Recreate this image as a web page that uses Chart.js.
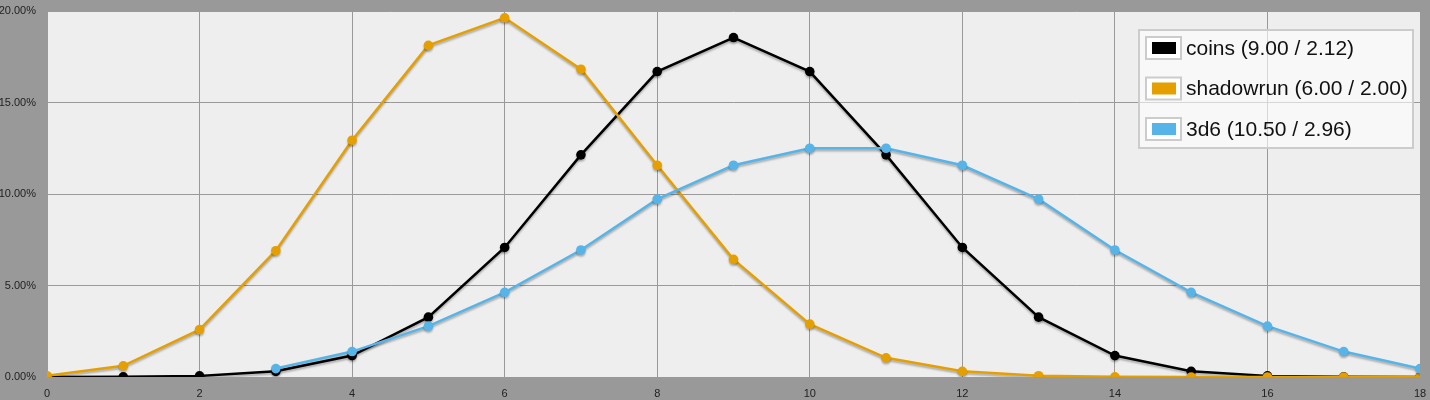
<!DOCTYPE html>
<html>
<head>
<meta charset="utf-8">
<script src="https://cdn.jsdelivr.net/npm/chart.js@4/dist/chart.umd.min.js"></script>
<style>
  html, body { margin: 0; padding: 0; background: #999999; }
  #wrap { width: 1430px; height: 400px; }
</style>
</head>
<body>
<div id="wrap"><canvas id="dist"></canvas></div>
<script>
// values in percent
const coinsX = [0, 1, 2, 3, 4, 5, 6, 7, 8, 9, 10, 11, 12, 13, 14, 15, 16, 17, 18];
const coinsY = [0.0, 0.01, 0.06, 0.31, 1.17, 3.27, 7.08, 12.14, 16.69, 18.55, 16.69, 12.14, 7.08, 3.27, 1.17, 0.31, 0.06, 0.01, 0.0];
const shadowX = [0, 1, 2, 3, 4, 5, 6, 7, 8, 9, 10, 11, 12, 13, 14, 15, 16, 17, 18];
const shadowY = [0.07, 0.61, 2.59, 6.90, 12.94, 18.12, 19.63, 16.82, 11.57, 6.43, 2.89, 1.05, 0.31, 0.07, 0.01, 0.0, 0.0, 0.0, 0.0];
const d6X = [3, 4, 5, 6, 7, 8, 9, 10, 11, 12, 13, 14, 15, 16, 17, 18];
const d6Y = [0.46, 1.39, 2.78, 4.63, 6.94, 9.72, 11.57, 12.50, 12.50, 11.57, 9.72, 6.94, 4.63, 2.78, 1.39, 0.46];
const seriesNames = ["coins (9.00 / 2.12)", "shadowrun (6.00 / 2.00)", "3d6 (10.50 / 2.96)"];
const xTicks = [0, 2, 4, 6, 8, 10, 12, 14, 16, 18];
const yTicks = [0, 5, 10, 15, 20];

const pts = (xs, ys) => xs.map((x, i) => ({ x: x, y: ys[i] }));

const FONT = "'Liberation Sans', Arial, sans-serif";

// plot background
const plotBg = {
    id: "plotBg",
    beforeDraw(chart) {
        const { ctx, chartArea: a } = chart;
        ctx.save();
        ctx.fillStyle = "#eeeeee";
        ctx.fillRect(a.left, a.top, a.right - a.left, a.bottom - a.top);
        ctx.restore();
    },
};

// soft drop shadow under the lines
const lineShadow = {
    id: "lineShadow",
    beforeDatasetsDraw(chart) {
        const ctx = chart.ctx;
        ctx.save();
        ctx.shadowColor = "rgba(0,0,0,0.28)";
        ctx.shadowOffsetX = 0;
        ctx.shadowOffsetY = 2;
        ctx.shadowBlur = 2;
    },
    afterDatasetsDraw(chart) {
        chart.ctx.restore();
    },
};

// legend box inside the plot, top right
const boxLegend = {
    id: "boxLegend",
    afterDraw(chart) {
        const { ctx, chartArea: a } = chart;
        const w = 274, h = 118;
        const x0 = a.right - 7 - w, y0 = a.top + 19;
        ctx.save();
        ctx.fillStyle = "rgba(255,255,255,0.6)";
        ctx.fillRect(x0, y0, w, h);
        ctx.strokeStyle = "#cccccc";
        ctx.lineWidth = 2;
        ctx.strokeRect(x0, y0, w, h);
        ctx.font = "21px " + FONT;
        ctx.textBaseline = "middle";
        chart.data.datasets.forEach((ds, i) => {
            const cy = y0 + 18 + i * 40.5;
            const bx = x0 + 7;
            ctx.fillStyle = "#ffffff";
            ctx.fillRect(bx, cy - 11, 35, 22);
            ctx.strokeStyle = "#cccccc";
            ctx.lineWidth = 2;
            ctx.strokeRect(bx, cy - 11, 35, 22);
            ctx.fillStyle = ds.borderColor;
            ctx.fillRect(bx + 6, cy - 6, 24, 12);
            ctx.fillStyle = "#111111";
            ctx.fillText(ds.label, x0 + 47, cy + 1);
        });
        ctx.restore();
    },
};

const makeSet = (label, data, color, order) => ({
    label: label,
    data: data,
    borderColor: color,
    backgroundColor: color,
    borderWidth: 2.5,
    pointRadius: 4.8,
    pointBackgroundColor: color,
    pointBorderWidth: 0,
    tension: 0,
    order: order,
});

new Chart(document.getElementById("dist").getContext("2d"), {
    type: "line",
    data: {
        datasets: [
            makeSet(seriesNames[0], pts(coinsX, coinsY), "#000000", 2),
            makeSet(seriesNames[1], pts(shadowX, shadowY), "#e69f00", 1),
            makeSet(seriesNames[2], pts(d6X, d6Y), "#56b4e9", 0),
        ],
    },
    options: {
        responsive: true,
        maintainAspectRatio: false,
        animation: false,
        layout: { padding: { top: 11, right: 10, left: 0, bottom: 0 } },
        plugins: {
            legend: { display: false },
            tooltip: { enabled: false },
        },
        scales: {
            x: {
                type: "linear",
                min: 0,
                max: 18,
                afterBuildTicks: (s) => { s.ticks = xTicks.map((v) => ({ value: v })); },
                afterFit: (s) => { s.height = 23; s.paddingLeft = 0; s.paddingRight = 0; },
                grid: { color: "#999999", lineWidth: 1, drawTicks: false },
                border: { display: false },
                ticks: {
                    padding: 10,
                    color: "#222222",
                    font: { family: FONT, size: 11 },
                    maxRotation: 0,
                },
            },
            y: {
                min: 0,
                max: 20,
                afterBuildTicks: (s) => { s.ticks = yTicks.map((v) => ({ value: v })); },
                afterFit: (s) => { s.width = 47; s.paddingTop = 0; s.paddingBottom = 0; },
                grid: { color: "#999999", lineWidth: 1, drawTicks: false },
                border: { display: false },
                ticks: {
                    padding: 11,
                    color: "#222222",
                    font: { family: FONT, size: 11 },
                    callback: (v) => v.toFixed(2) + "%",
                },
            },
        },
    },
    plugins: [plotBg, lineShadow, boxLegend],
});
</script>
</body>
</html>
